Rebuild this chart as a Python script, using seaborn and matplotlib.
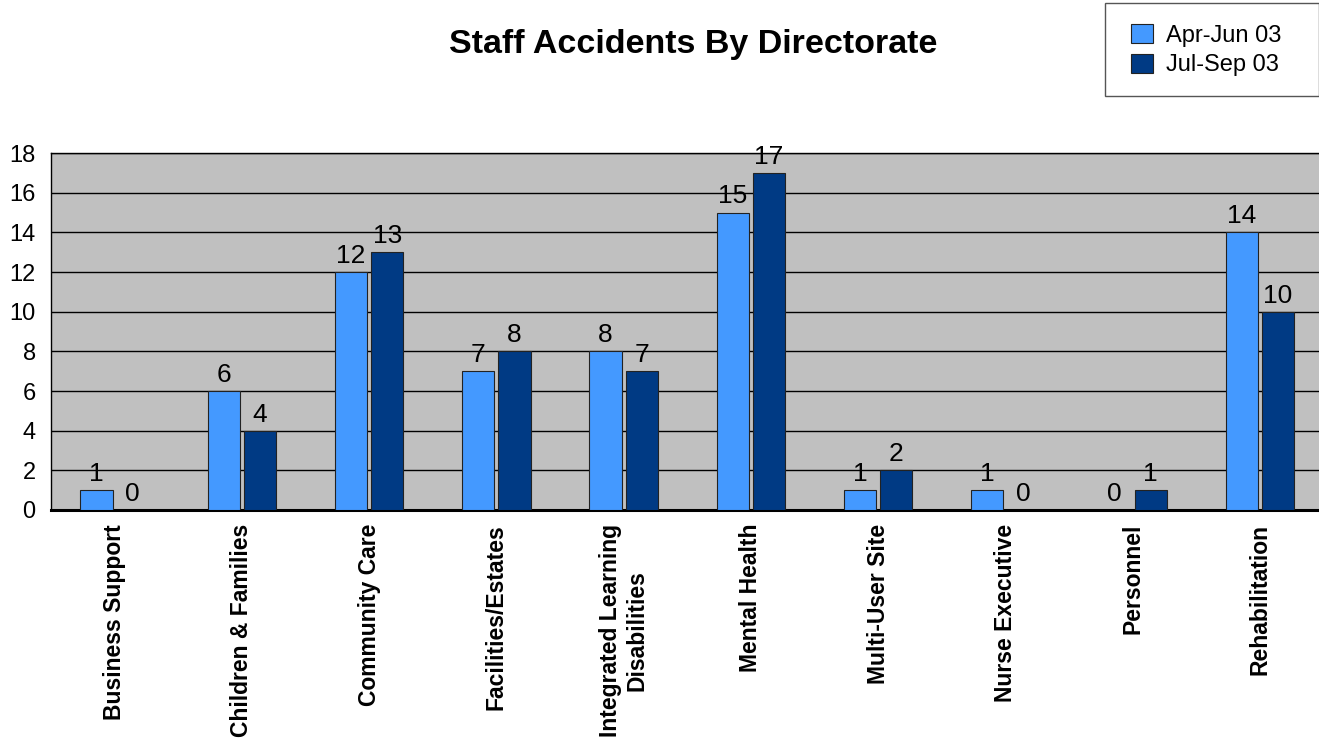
import numpy as np
import pandas as pd
import matplotlib
matplotlib.use("Agg")
import matplotlib.pyplot as plt
from matplotlib.patches import Rectangle
import seaborn as sns

# Chart data
directorates = ["Business Support", "Children & Families", "Community Care",
                "Facilities/Estates", "Integrated Learning\nDisabilities",
                "Mental Health", "Multi-User Site", "Nurse Executive",
                "Personnel", "Rehabilitation"]
apr_jun_03 = [1, 6, 12, 7, 8, 15, 1, 1, 0, 14]
jul_sep_03 = [0, 4, 13, 8, 7, 17, 2, 0, 1, 10]
periods = ["Apr-Jun 03", "Jul-Sep 03"]
colours = ["#4499FF", "#003A84"]

df = pd.DataFrame({
    "directorate": directorates * 2,
    "period": [periods[0]] * len(directorates) + [periods[1]] * len(directorates),
    "accidents": apr_jun_03 + jul_sep_03,
})

sns.set_theme(style="white")
plt.rcParams["font.family"] = ["Liberation Sans", "DejaVu Sans"]
plt.rcParams["text.color"] = "black"
plt.rcParams["xtick.color"] = "black"
plt.rcParams["ytick.color"] = "black"

fig = plt.figure(figsize=(13.19, 7.47), dpi=100)
ax = fig.add_axes([51 / 1319, 1 - 510 / 747, (1323.5 - 51) / 1319, (510 - 153) / 747])
ax.set_facecolor("#C0C0C0")

sns.barplot(data=df, x="directorate", y="accidents", hue="period",
            palette=colours, saturation=1, width=0.57, gap=0.11,
            edgecolor="#222222", linewidth=0.8, ax=ax, legend=False, zorder=3)

for cont in ax.containers:
    ax.bar_label(cont, fmt="%d", padding=3, fontsize=19, color="black", zorder=4)

ax.set_ylim(0, 18)
ax.set_yticks(range(0, 19, 2))
ax.yaxis.grid(True, color="black", linewidth=1)
ax.set_axisbelow(True)
ax.set_xlabel("")
ax.set_ylabel("")
ax.tick_params(axis="y", length=0, labelsize=17, pad=11)
ax.tick_params(axis="x", length=0, pad=10)
ax.set_xticks(range(len(directorates)))
ax.set_xticklabels(directorates, rotation=90, fontsize=16.5, fontweight="bold",
                   va="top", ha="center", multialignment="center")
for side in ["top", "left", "right"]:
    ax.spines[side].set_color("black")
    ax.spines[side].set_linewidth(1)
ax.spines["bottom"].set_color("black")
ax.spines["bottom"].set_linewidth(2.2)

fig.text(693 / 1319, 1 - 44 / 747, "Staff Accidents By Directorate",
         ha="center", va="center", fontsize=24.5, fontweight="bold")

# Legend box
fig.patches.append(Rectangle((1105 / 1319, 1 - 96 / 747), 214 / 1319, 93 / 747,
                             transform=fig.transFigure, facecolor="white",
                             edgecolor="#555555", linewidth=1))
handles = [Rectangle((0, 0), 1, 1, facecolor=c, edgecolor="#222222", linewidth=0.8)
           for c in colours]
fig.legend(handles, periods, loc="upper left",
           bbox_to_anchor=(1131 / 1319, 1 - 24 / 747), frameon=False,
           fontsize=17, handlelength=0.95, handleheight=0.85,
           handletextpad=0.55, labelspacing=0.3, borderpad=0, borderaxespad=0)

fig.savefig("out.png", dpi=100)
